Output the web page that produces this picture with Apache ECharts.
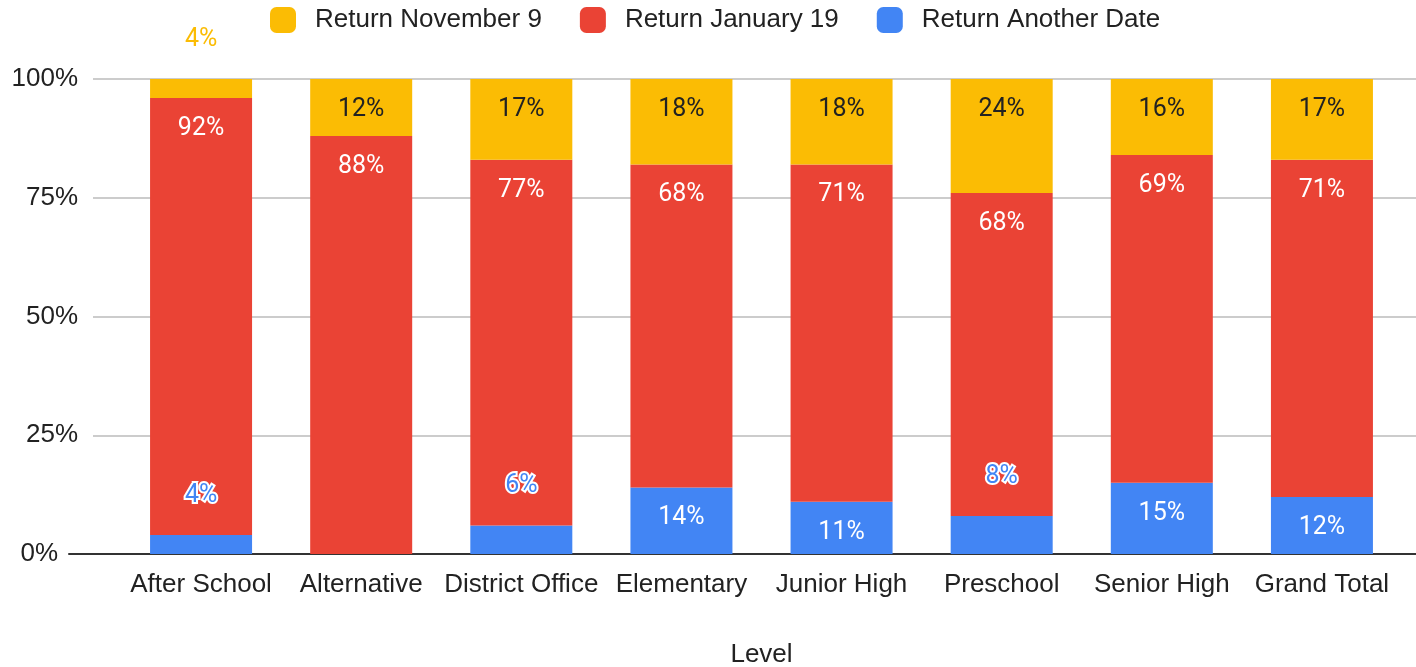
<!DOCTYPE html>
<html>
<head>
<meta charset="utf-8">
<script src="https://cdn.jsdelivr.net/npm/echarts@6/dist/echarts.min.js"></script>
<style>
	html, body { margin: 0; padding: 0; background: #fff; }
	#chart { width: 1416px; height: 667px; }
</style>
</head>
<body>
<div id="chart"></div>
<script>
var levels = [ 'After School', 'Alternative', 'District Office', 'Elementary', 'Junior High', 'Preschool', 'Senior High', 'Grand Total' ];
var returnNov9 = [ 4, 12, 17, 18, 18, 24, 16, 17 ];
var returnJan19 = [ 92, 88, 77, 68, 71, 68, 69, 71 ];
var returnOther = [ 4, 0, 6, 14, 11, 8, 15, 12 ];
var yTicks = [ 0, 25, 50, 75, 100 ];

var YELLOW = '#fbbc04', RED = '#ea4335', BLUE = '#4285f4';
var FONT = '"Liberation Sans", Arial, sans-serif';

// small segments get their label above the bar, like the sheets chart does
function withLabels(values, color, insideColor) {
	return values.map(function(v) {
		if (v === 0) {
			return { value : v, label : { show : false } };
		}
		if (v < 10) {
			return {
				value : v,
				label : {
					show : true,
					position : 'top',
					distance : 27,
					color : color,
					textBorderColor : '#fff',
					textBorderWidth : 4
				}
			};
		}
		return { value : v, label : { show : true, color : insideColor } };
	});
}

function barSeries(name, values, color, insideColor) {
	return {
		name : name,
		type : 'bar',
		stack : 'total',
		xAxisIndex : 1,
		yAxisIndex : 1,
		barWidth : 102,
		itemStyle : { color : color },
		label : {
			show : true,
			position : 'insideTop',
			distance : 18,
			fontFamily : 'Roboto, sans-serif',
			fontSize : 25,
			formatter : '{c}%'
		},
		data : withLabels(values, color, insideColor)
	};
}

var chart = echarts.init(document.getElementById('chart'));
var option = {
	animation : false,
	legend : {
		left : 265,
		top : 2,
		itemWidth : 26,
		itemHeight : 26,
		itemGap : 38,
		icon : 'roundRect',
		textStyle : {
			fontFamily : FONT,
			fontSize : 26,
			color : '#222',
			padding : [ 0, 0, 0, 14 ]
		},
		data : [ 'Return November 9', 'Return January 19', 'Return Another Date' ]
	},
	grid : [
		{ left : 93, right : 0, top : 79, bottom : 113, outerBoundsMode : 'none' },   // gridlines
		{ left : 121, right : 14, top : 79, bottom : 113, outerBoundsMode : 'none' }, // bars
		{ left : 69, right : 0, top : 79, bottom : 113, outerBoundsMode : 'none' }    // baseline
	],
	xAxis : [ {
		gridIndex : 0,
		type : 'value',
		show : false
	}, {
		gridIndex : 1,
		type : 'category',
		data : levels,
		name : 'Level',
		nameLocation : 'middle',
		nameGap : 88,
		nameTextStyle : { fontFamily : FONT, fontSize : 26, color : '#222' },
		axisLine : { show : false },
		axisTick : { show : false },
		axisLabel : {
			margin : 18,
			fontFamily : FONT,
			fontSize : 26,
			color : '#222',
			interval : 0
		}
	}, {
		gridIndex : 2,
		type : 'value',
		axisLine : { show : true, lineStyle : { color : '#333', width : 2 } },
		axisTick : { show : false },
		axisLabel : { show : false },
		splitLine : { show : false }
	} ],
	yAxis : [ {
		gridIndex : 0,
		type : 'value',
		min : yTicks[0],
		max : yTicks[yTicks.length - 1],
		interval : 25,
		axisLine : { show : false },
		axisTick : { show : false },
		axisLabel : {
			margin : 15,
			fontFamily : FONT,
			fontSize : 26,
			color : '#222',
			// the 0% label sits left of the longer baseline
			formatter : function(v) {
				return v === 0 ? '{zero|0%}' : v + '%';
			},
			rich : {
				zero : { fontFamily : FONT, fontSize : 26, color : '#222', padding : [ 0, 20, 0, 0 ] }
			}
		},
		splitLine : { lineStyle : { color : '#cccccc', width : 2 } }
	}, {
		gridIndex : 1,
		type : 'value',
		min : 0,
		max : 100,
		show : false
	}, {
		gridIndex : 2,
		type : 'value',
		min : 0,
		max : 100,
		show : false
	} ],
	series : [
		barSeries('Return Another Date', returnOther, BLUE, '#fff'),
		barSeries('Return January 19', returnJan19, RED, '#fff'),
		barSeries('Return November 9', returnNov9, YELLOW, '#222')
	]
};
chart.setOption(option);
</script>
</body>
</html>
